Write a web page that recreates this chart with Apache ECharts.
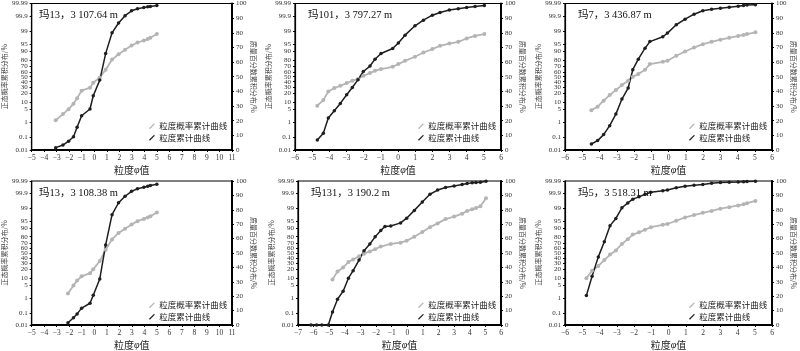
<!DOCTYPE html>
<html>
<head>
<meta charset="utf-8">
<script src="https://cdn.jsdelivr.net/npm/echarts@6/dist/echarts.min.js"></script>
<style>
html, body { margin: 0; padding: 0; background: #fff; }
#main { width: 800px; height: 351px; }
</style>
</head>
<body>
<div id="main"></div>
<script>
// left axis: normal probability ticks (%), right axis: linear 0-100
var probTicks = [0.01, 0.1, 1, 5, 10, 20, 30, 40, 50, 60, 70, 80, 90, 95, 99, 99.9, 99.99];
var titles = ['玛13，3 107.64 m', '玛101，3 797.27 m', '玛7，3 436.87 m',
              '玛13，3 108.38 m', '玛131，3 190.2 m', '玛5，3 518.31 m'];
var xRanges = [[-5, 11], [-6, 6], [-6, 6], [-5, 11], [-7, 6], [-6, 6]];

// 玛13, 3107.64 m
var phi1 = [-3.08, -2.5, -2.05, -1.66, -1.37, -1.01, -0.34, -0.08, 0.44, 0.91, 1.42, 1.94, 2.46, 2.98, 3.45, 3.96, 4.27, 4.48, 5.0];
var cum1 = [1.6, 3.4, 6, 9, 15.5, 23.4, 28, 37, 47.7, 65.8, 80, 86.7, 91.7, 95, 96.4, 97.3, 97.7, 98, 98.6];
var prob1 = [1.35, 2.9, 5.0, 8.5, 13.8, 24, 29, 38, 48.6, 64, 80.8, 87.3, 91.5, 94.4, 95.9, 96.7, 97.2, 97.6, 98.5];

// 玛101, 3797.27 m
var phi2 = [-4.70, -4.35, -4.06, -3.71, -3.36, -2.99, -2.66, -2.33, -2.02, -1.63, -1.34, -0.99, -0.31, 0.02, 0.41, 0.99, 1.48, 2.0, 2.45, 2.99, 3.51, 4.0, 4.49, 5.03];
var cum2 = [6.8, 11.4, 21.8, 26.8, 31.8, 37.7, 42.7, 48, 53.6, 57.3, 62, 65.9, 69.3, 73, 78.4, 84.8, 88.6, 92, 93.9, 95.5, 96.4, 97.3, 98, 98.6];
var prob2 = [7.1, 11.8, 22.8, 28.3, 32.4, 37.4, 42, 45.3, 52, 57.4, 62, 65.1, 69.4, 74, 79.1, 84.5, 89.1, 92, 94.2, 95.4, 96.2, 97.4, 98.1, 98.5];

// 玛7, 3436.87 m
var phi3 = [-4.47, -4.11, -3.76, -3.41, -3.05, -2.70, -2.34, -2.07, -1.75, -1.36, -1.08, -0.33, -0.06, 0.45, 0.96, 1.48, 1.99, 2.50, 3.01, 3.52, 4.04, 4.35, 4.55, 5.04];
var cum3 = [4.1, 6.4, 10.5, 16.6, 24.5, 34.8, 42.3, 54.8, 62, 69.5, 74, 77.3, 79.8, 85.5, 89.3, 92.7, 95, 96.1, 96.8, 97.5, 98.2, 98.6, 98.9, 99.1];
var prob3 = [4.5, 6.4, 11.2, 17.6, 25, 33.6, 42, 50, 55.4, 63.9, 74, 77.6, 79.1, 85.7, 90, 93.1, 95.1, 96.2, 97, 97.6, 98.1, 98.3, 98.5, 98.8];

// 玛13, 3108.38 m
var phi4 = [-2.10, -1.66, -1.37, -1.01, -0.34, -0.08, 0.44, 0.91, 1.42, 1.94, 2.46, 2.98, 3.45, 3.96, 4.27, 4.48, 5.0];
var cum4 = [1.6, 5, 7.7, 11.7, 15.1, 20.7, 32, 55.6, 76.6, 84.9, 89.4, 92.8, 94.6, 95.7, 96.4, 96.8, 97.7];
var prob4 = [1.8, 4.7, 7.7, 11.4, 14.9, 20.1, 33.8, 56.6, 75.9, 85, 89.5, 93, 95, 96.1, 96.7, 97.1, 98.2];

// 玛131, 3190.2 m
var phi5 = [-6.17, -5.81, -5.47, -5.06, -4.79, -4.47, -4.11, -3.77, -3.47, -3.09, -2.77, -2.40, -2.06, -1.70, -1.43, -1.06, -0.43, -0.04, 0.45, 0.96, 1.45, 1.94, 2.45, 3.0, 3.51, 3.83, 4.15, 4.4, 4.68, 5.04];
var cum5 = [0, 0, 0, 0, 9, 17.9, 23.5, 32.5, 37.7, 45.1, 51.6, 56.3, 61.2, 65.7, 68.4, 68.8, 70.9, 74.2, 79.6, 85.4, 90.8, 93.7, 95.5, 96.6, 97.5, 98.2, 98.7, 98.9, 99.1, 99.8];
var phi5g = [-4.79, -4.47, -4.11, -3.77, -3.47, -3.09, -2.77, -2.40, -2.06, -1.70, -1.06, -0.43, -0.04, 0.45, 0.96, 1.45, 1.94, 2.45, 3.0, 3.51, 3.83, 4.15, 4.4, 4.68, 5.04];
var prob5 = [8.6, 17.1, 22.7, 32, 37, 43.4, 48.7, 53.3, 57.9, 63.1, 68, 70.3, 73.7, 79.8, 86.1, 90.9, 93.7, 96, 97, 97.9, 98.5, 98.8, 99.0, 99.2, 99.77];

// 玛5, 3518.31 m
var phi6 = [-4.76, -4.43, -4.07, -3.72, -3.39, -3.05, -2.70, -2.36, -2.07, -1.71, -1.36, -1.02, -0.33, -0.06, 0.45, 0.96, 1.48, 1.99, 2.50, 3.01, 3.52, 4.04, 4.35, 4.55, 5.04];
var cum6 = [20.4, 33.9, 47.3, 57.8, 69, 74, 81.4, 84.8, 87.4, 89, 90.8, 92.2, 93.3, 93.7, 95.3, 96.4, 97.1, 97.5, 98.4, 98.9, 99.1, 99.3, 99.5, 99.6, 99.8];
var prob6 = [9.7, 18, 25.2, 35.7, 46.7, 55.3, 68, 76.3, 82.9, 85.7, 88.5, 90.9, 92.7, 93.3, 95.2, 96.7, 97.5, 98.1, 98.5, 98.9, 99.1, 99.3, 99.4, 99.5, 99.64];

var probPhi = [phi1, phi2, phi3, phi4, phi5g, phi6];
var probVals = [prob1, prob2, prob3, prob4, prob5, prob6];
var cumPhi = [phi1, phi2, phi3, phi4, phi5, phi6];
var cumVals = [cum1, cum2, cum3, cum4, cum5, cum6];

// panel boxes [left, top, width, height]
var boxes = [[26, 3, 206, 147], [295, 3, 206, 147], [565, 3, 207, 147],
             [26, 181, 206, 148], [298, 181, 203, 148], [565, 181, 207, 148]];

var NAME_PROB = '粒度概率累计曲线';
var NAME_CUM = '粒度累计曲线';
var GRAY = '#b4b4b4';
var DARK = '#1e1e1e';
var SERIF = '"Liberation Serif", "Noto Sans CJK SC", serif';
var CJK = '"Noto Sans CJK SC", sans-serif';

// inverse normal CDF (Acklam) - the probability-paper scale
function probit(p) {
    var a = [-3.969683028665376e+01, 2.209460984245205e+02, -2.759285104469687e+02, 1.383577518672690e+02, -3.066479806614716e+01, 2.506628277459239e+00];
    var b = [-5.447609879822406e+01, 1.615858368580409e+02, -1.556989798598866e+02, 6.680131188771972e+01, -1.328068155288572e+01];
    var c = [-7.784894002430293e-03, -3.223964580411365e-01, -2.400758277161838e+00, -2.549732539343734e+00, 4.374664141464968e+00, 2.938163982698783e+00];
    var d = [7.784695709041462e-03, 3.224671290700398e-01, 2.445134137142996e+00, 3.754408661907416e+00];
    var pl = 0.02425, q, r;
    if (p < pl) {
        q = Math.sqrt(-2 * Math.log(p));
        return (((((c[0] * q + c[1]) * q + c[2]) * q + c[3]) * q + c[4]) * q + c[5]) / ((((d[0] * q + d[1]) * q + d[2]) * q + d[3]) * q + 1);
    }
    if (p > 1 - pl) {
        q = Math.sqrt(-2 * Math.log(1 - p));
        return -(((((c[0] * q + c[1]) * q + c[2]) * q + c[3]) * q + c[4]) * q + c[5]) / ((((d[0] * q + d[1]) * q + d[2]) * q + d[3]) * q + 1);
    }
    q = p - 0.5;
    r = q * q;
    return (((((a[0] * r + a[1]) * r + a[2]) * r + a[3]) * r + a[4]) * r + a[5]) * q / (((((b[0] * r + b[1]) * r + b[2]) * r + b[3]) * r + b[4]) * r + 1);
}

var zTicks = probTicks.map(function (p) { return probit(p / 100); });
var zMin = zTicks[0], zMax = zTicks[zTicks.length - 1];

function probLabel(v) {
    for (var i = 0; i < zTicks.length; i++) {
        if (Math.abs(zTicks[i] - v) < 1e-6) return String(probTicks[i]);
    }
    return '';
}

var grid = [], xAxis = [], yAxis = [], series = [], title = [], legend = [];

boxes.forEach(function (b, k) {
    grid.push({
        left: b[0], top: b[1], width: b[2], height: b[3],
        show: true, borderColor: '#000', borderWidth: 1.2, backgroundColor: 'transparent'
    });
    xAxis.push({
        type: 'value', gridIndex: k,
        min: xRanges[k][0], max: xRanges[k][1], interval: 1,
        name: '粒度{i|φ}值', nameLocation: 'middle', nameGap: 15,
        nameTextStyle: { fontSize: 10, color: '#222', fontFamily: CJK,
            rich: { i: { fontStyle: 'italic', fontSize: 10, fontFamily: SERIF, color: '#222' } } },
        axisLine: { onZero: false, lineStyle: { color: '#000', width: 2 } },
        axisTick: { length: 2, lineStyle: { color: '#000' } },
        axisLabel: { fontSize: 7.5, margin: 4, color: '#333', fontFamily: SERIF,
            formatter: function (v) { return String(v).replace('-', '−'); } },
        splitLine: { show: false }
    });
    yAxis.push({
        type: 'value', gridIndex: k, position: 'left',
        min: zMin, max: zMax,
        name: '正态概率累积分布/%', nameLocation: 'middle', nameGap: 22, nameRotate: 90,
        nameTextStyle: { fontSize: 7, color: '#444', fontFamily: CJK },
        axisLine: { show: true, onZero: false, lineStyle: { color: '#000', width: 1.2 } },
        axisTick: { show: true, length: 2, customValues: zTicks, lineStyle: { color: '#000' } },
        axisLabel: { fontSize: 7, margin: 4, color: '#333', fontFamily: SERIF,
            customValues: zTicks, formatter: probLabel },
        splitLine: { show: false }
    });
    yAxis.push({
        type: 'value', gridIndex: k, position: 'right',
        min: 0, max: 100, interval: 10,
        name: '质量百分数累积分布/%', nameLocation: 'middle', nameGap: 18, nameRotate: -90,
        nameTextStyle: { fontSize: 7, color: '#444', fontFamily: CJK },
        axisLine: { show: true, onZero: false, lineStyle: { color: '#000', width: 2 } },
        axisTick: { show: true, length: 2, lineStyle: { color: '#000' } },
        axisLabel: { fontSize: 7, margin: 4, color: '#333', fontFamily: SERIF },
        splitLine: { show: false }
    });
    series.push({
        name: NAME_PROB, type: 'line', xAxisIndex: k, yAxisIndex: 2 * k,
        data: probPhi[k].map(function (x, i) { return [x, probit(probVals[k][i] / 100)]; }),
        symbol: 'circle', symbolSize: 4, showAllSymbol: true,
        lineStyle: { color: GRAY, width: 1.8 }, itemStyle: { color: GRAY }
    });
    series.push({
        name: NAME_CUM, type: 'line', xAxisIndex: k, yAxisIndex: 2 * k + 1,
        data: cumPhi[k].map(function (x, i) { return [x, cumVals[k][i]]; }),
        symbol: 'circle', symbolSize: 3.5, showAllSymbol: true,
        lineStyle: { color: DARK, width: 1.5 }, itemStyle: { color: DARK }
    });
    title.push({
        text: titles[k], left: b[0] + 8, top: b[1] + 2,
        textStyle: { fontSize: 10.5, fontWeight: 'normal', color: '#111', fontFamily: SERIF }
    });
    legend.push({
        data: [NAME_PROB, NAME_CUM], orient: 'vertical',
        left: b[0] + b[2] - 88, top: b[1] + b[3] - 33,
        itemWidth: 9, itemHeight: 6, itemGap: 3,
        icon: 'path://M0,8L8,0L9,1.4L1.4,9.4Z',
        textStyle: { fontSize: 8.5, color: '#222', fontFamily: CJK, padding: [0, 0, 0, -2] },
        selectedMode: false
    });
});

var myChart = echarts.init(document.getElementById('main'), null, { renderer: 'canvas' });
myChart.setOption({
    animation: false,
    backgroundColor: '#fff',
    title: title,
    legend: legend,
    grid: grid,
    xAxis: xAxis,
    yAxis: yAxis,
    series: series
});
</script>
</body>
</html>
